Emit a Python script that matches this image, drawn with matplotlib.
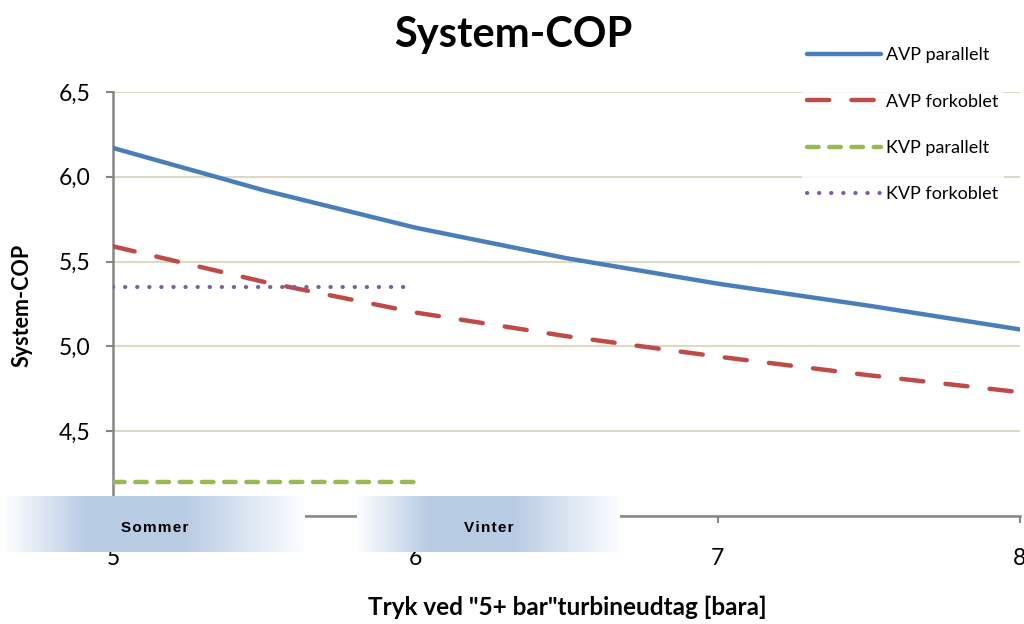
import matplotlib
matplotlib.use("Agg")
import matplotlib.pyplot as plt
import numpy as np
from matplotlib.ticker import FuncFormatter

# data
x_avp = [5.0, 5.5, 6.0, 6.5, 7.0, 7.5, 8.0]
avp_parallelt = [6.17, 5.92, 5.70, 5.52, 5.37, 5.24, 5.10]
avp_forkoblet = [5.59, 5.38, 5.20, 5.06, 4.94, 4.83, 4.73]
x_kvp = [5.0, 6.0]
kvp_parallelt = [4.20, 4.20]
kvp_forkoblet = [5.35, 5.35]

y_ticks = [4.0, 4.5, 5.0, 5.5, 6.0, 6.5]
x_ticks = [5, 6, 7, 8]
season_labels = ["Sommer", "Vinter"]

plt.rcParams["font.family"] = ["Lato", "DejaVu Sans"]

W, H = 1024, 624
fig = plt.figure(figsize=(W / 100, H / 100), dpi=100)
ax = fig.add_axes([113 / W, 1 - 516 / H, (1020 - 113) / W, (516 - 92) / H])

ax.plot(x_avp, avp_parallelt, color="#4a7ebb", lw=3.2, solid_capstyle="round",
        label="AVP parallelt")
ax.plot(x_avp, avp_forkoblet, color="#be4b48", lw=3.2, dashes=(5.0, 5.0),
        dash_capstyle="round", label="AVP forkoblet")
ax.plot(x_kvp, kvp_parallelt, color="#98b954", lw=3.2, dashes=(2.6, 2.4),
        dash_capstyle="round", label="KVP parallelt")
ax.plot(x_kvp, kvp_forkoblet, color="#7d5fa0", lw=3.0, dashes=(0.05, 2.85),
        dash_capstyle="round", label="KVP forkoblet")

ax.set_xlim(5, 8)
ax.set_ylim(4.0, 6.5)
ax.set_yticks(y_ticks)
ax.set_xticks(x_ticks)
ax.yaxis.set_major_formatter(FuncFormatter(lambda v, p: f"{v:.1f}".replace(".", ",")))
ax.grid(axis="y", color="#ddd9c3", lw=1.5)
ax.set_axisbelow(True)

for s in ["top", "right"]:
    ax.spines[s].set_visible(False)
for s in ["left", "bottom"]:
    ax.spines[s].set_color("#868686")
    ax.spines[s].set_linewidth(1.8)
    ax.spines[s].set_zorder(1)
ax.tick_params(axis="y", colors="#868686", length=5, width=1.5, pad=11,
               labelsize=16.5, labelcolor="black")
ax.tick_params(axis="x", colors="#868686", length=5, width=1.5, pad=18,
               labelsize=16.5, labelcolor="black")

fig.text(513 / W, 1 - 35 / H, "System-COP", ha="center", va="center",
         fontsize=30, fontweight="bold")
fig.text(22 / W, 1 - 305 / H, "System-COP", ha="center", va="center",
         rotation=90, fontsize=15.5, fontweight="bold")
fig.text(567 / W, 1 - 607 / H, 'Tryk ved "5+ bar"turbineudtag [bara]',
         ha="center", va="center", fontsize=17.5, fontweight="bold")

leg = fig.legend(loc="upper left", bbox_to_anchor=(793 / W, 1 - 33 / H),
                 frameon=True, fontsize=13, handlelength=4.1,
                 labelspacing=1.68, handletextpad=0.25, borderpad=0.3)
leg.get_frame().set_edgecolor("none")
leg.get_frame().set_facecolor("white")

# gradient boxes over the x axis
t = np.linspace(0, 1, 300)
w = np.interp(t, [0, 0.27, 0.6, 1.0], [0, 1, 1, 0])
edge = np.array([0.99, 0.993, 1.0])
blue = np.array([0.725, 0.800, 0.894])
grad = (edge[None, :] * (1 - w[:, None]) + blue[None, :] * w[:, None])[None, :, :]

boxes = [(5, 305), (357, 620)]
for (x0, x1), lab in zip(boxes, season_labels):
    bax = fig.add_axes([x0 / W, 1 - 552 / H, (x1 - x0) / W, (552 - 496) / H])
    bax.imshow(grad, aspect="auto", extent=[0, 1, 0, 1])
    bax.set_axis_off()
    spaced = "\u200a".join(lab)
    bax.text(0.5, 0.42, spaced, ha="center", va="center", fontsize=11,
             fontweight="bold", family=["Liberation Sans", "DejaVu Sans"])

fig.savefig("out.png", dpi=100)
